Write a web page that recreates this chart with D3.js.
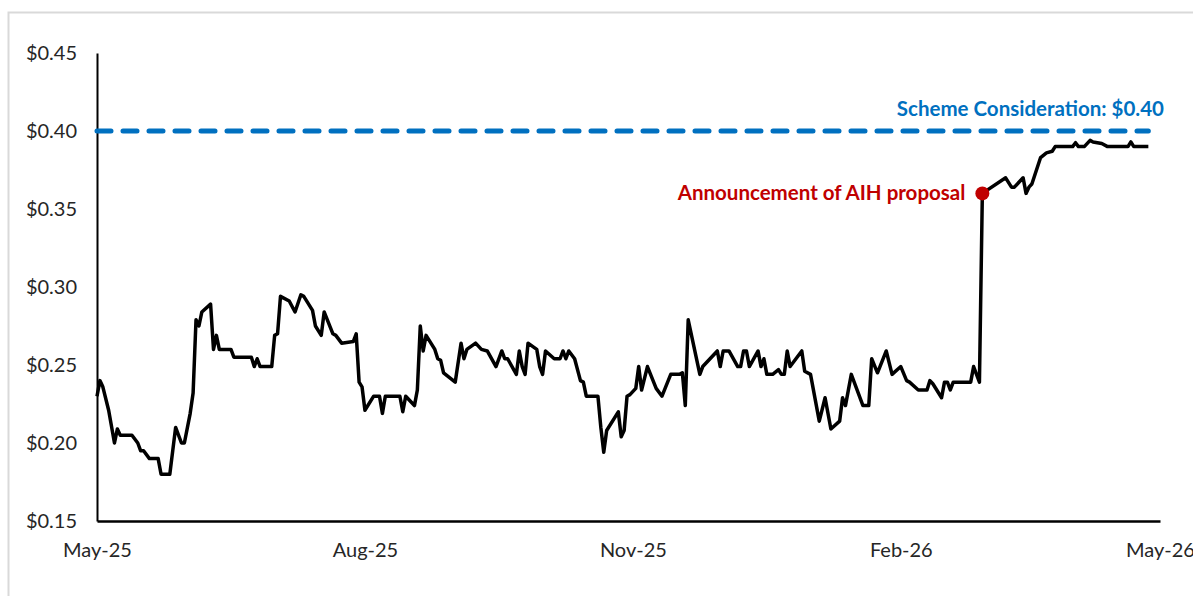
<!DOCTYPE html>
<html>
<head>
<meta charset="utf-8">
<script src="https://cdn.jsdelivr.net/npm/d3@7"></script>
<style>
  body { margin: 0; background: #fff; }
  svg { display: block; font-family: Lato, 'Noto Sans', sans-serif; }
</style>
</head>
<body>
<svg id="chart"></svg>
<script>
// share price
const dates = [
  '2025-05-01','2025-05-02','2025-05-03','2025-05-05','2025-05-07','2025-05-08','2025-05-09','2025-05-13',
  '2025-05-15','2025-05-16','2025-05-17','2025-05-19','2025-05-22','2025-05-23','2025-05-26','2025-05-28',
  '2025-05-30','2025-05-31','2025-06-02','2025-06-03','2025-06-04','2025-06-05','2025-06-06','2025-06-09',
  '2025-06-10','2025-06-11','2025-06-12','2025-06-16','2025-06-17','2025-06-23','2025-06-24','2025-06-25',
  '2025-06-26','2025-06-30','2025-07-01','2025-07-02','2025-07-03','2025-07-06','2025-07-08','2025-07-10',
  '2025-07-11','2025-07-14','2025-07-15','2025-07-17','2025-07-18','2025-07-21','2025-07-22','2025-07-24',
  '2025-07-28','2025-07-29','2025-07-30','2025-07-31','2025-08-01','2025-08-04','2025-08-06','2025-08-07',
  '2025-08-08','2025-08-13','2025-08-14','2025-08-15','2025-08-18','2025-08-19','2025-08-20','2025-08-21',
  '2025-08-22','2025-08-25','2025-08-26','2025-08-27','2025-08-28','2025-09-01','2025-09-03','2025-09-04',
  '2025-09-05','2025-09-08','2025-09-10','2025-09-12','2025-09-15','2025-09-17','2025-09-18','2025-09-19',
  '2025-09-22','2025-09-23','2025-09-24','2025-09-25','2025-09-26','2025-09-29','2025-09-30','2025-10-01',
  '2025-10-02','2025-10-05','2025-10-07','2025-10-08','2025-10-09','2025-10-10','2025-10-12','2025-10-14',
  '2025-10-15','2025-10-16','2025-10-20','2025-10-21','2025-10-22','2025-10-23','2025-10-27','2025-10-28',
  '2025-10-29','2025-10-30','2025-10-31','2025-11-02','2025-11-03','2025-11-04','2025-11-06','2025-11-09',
  '2025-11-11','2025-11-14','2025-11-17','2025-11-18','2025-11-19','2025-11-20','2025-11-24','2025-11-25',
  '2025-11-30','2025-12-01','2025-12-02','2025-12-04','2025-12-07','2025-12-08','2025-12-09','2025-12-10',
  '2025-12-11','2025-12-14','2025-12-15','2025-12-16','2025-12-17','2025-12-19','2025-12-21','2025-12-22',
  '2025-12-23','2025-12-24','2025-12-25','2025-12-29','2025-12-30','2026-01-01','2026-01-04','2026-01-06',
  '2026-01-08','2026-01-11','2026-01-12','2026-01-13','2026-01-15','2026-01-19','2026-01-21','2026-01-22',
  '2026-01-24','2026-01-27','2026-01-29','2026-02-01','2026-02-03','2026-02-04','2026-02-07','2026-02-10',
  '2026-02-11','2026-02-12','2026-02-15','2026-02-16','2026-02-17','2026-02-18','2026-02-19','2026-02-25',
  '2026-02-26','2026-02-28','2026-03-01','2026-03-09','2026-03-11','2026-03-12','2026-03-15','2026-03-16',
  '2026-03-17','2026-03-18','2026-03-21','2026-03-23','2026-03-25','2026-03-26','2026-04-01','2026-04-02',
  '2026-04-03','2026-04-05','2026-04-07','2026-04-08','2026-04-11','2026-04-13','2026-04-20','2026-04-21',
  '2026-04-22','2026-04-27'
];

const prices = [
  0.230,0.240,0.236,0.221,0.200,0.209,0.205,0.205,
  0.200,0.195,0.195,0.190,0.190,0.180,0.180,0.210,
  0.200,0.200,0.219,0.232,0.279,0.275,0.284,0.289,
  0.260,0.269,0.260,0.260,0.255,0.255,0.249,0.254,
  0.249,0.249,0.269,0.270,0.294,0.291,0.284,0.295,
  0.294,0.285,0.275,0.269,0.284,0.270,0.269,0.264,
  0.265,0.270,0.239,0.236,0.221,0.230,0.230,0.219,
  0.230,0.230,0.220,0.230,0.224,0.234,0.275,0.259,
  0.269,0.260,0.254,0.253,0.245,0.239,0.264,0.254,
  0.260,0.264,0.260,0.259,0.249,0.259,0.254,0.254,
  0.244,0.259,0.249,0.244,0.264,0.260,0.249,0.244,
  0.259,0.254,0.254,0.259,0.254,0.259,0.254,0.240,
  0.239,0.230,0.230,0.210,0.194,0.208,0.220,0.204,
  0.208,0.230,0.231,0.235,0.249,0.234,0.249,0.235,
  0.230,0.244,0.244,0.245,0.224,0.279,0.244,0.249,
  0.259,0.249,0.259,0.259,0.249,0.249,0.259,0.259,
  0.249,0.259,0.249,0.254,0.244,0.244,0.247,0.244,
  0.244,0.259,0.249,0.259,0.246,0.244,0.214,0.229,
  0.209,0.214,0.229,0.224,0.244,0.224,0.224,0.254,
  0.245,0.259,0.244,0.249,0.240,0.239,0.234,0.234,
  0.240,0.238,0.229,0.239,0.239,0.234,0.239,0.239,
  0.249,0.239,0.360,0.370,0.364,0.364,0.370,0.360,
  0.364,0.366,0.383,0.386,0.387,0.390,0.390,0.3925,
  0.390,0.390,0.394,0.393,0.392,0.390,0.390,0.393,
  0.390,0.390
];

const yTicks = [0.15, 0.20, 0.25, 0.30, 0.35, 0.40, 0.45];
const xTicks = ['2025-05-01', '2025-08-01', '2025-11-01', '2026-02-01', '2026-05-01'];
const schemePrice = 0.40;
const schemeLabel = 'Scheme Consideration: $0.40';
const announceDate = '2026-03-01';
const announceLabel = 'Announcement of AIH proposal';

const W = 1193, H = 596;
const font = "Lato, 'Noto Sans', sans-serif";
const parse = d3.timeParse('%Y-%m-%d');

const data = dates.map((d, i) => ({ date: parse(d), price: prices[i] }));

const svg = d3.select('#chart').attr('width', W).attr('height', H);

// outer chart frame
svg.append('rect')
  .attr('x', 8.5).attr('y', 12.5)
  .attr('width', W).attr('height', H)
  .attr('fill', 'none')
  .attr('stroke', '#d9d9d9')
  .attr('stroke-width', 2);

const x = d3.scaleTime()
  .domain([parse('2025-05-01'), parse('2026-05-01')])
  .range([97, 1160]);

const y = d3.scaleLinear()
  .domain([0.15, 0.45])
  .range([521, 53]);

const yAxis = d3.axisLeft(y)
  .tickValues(yTicks)
  .tickSize(0)
  .tickPadding(20)
  .tickFormat((d) => `$${d.toFixed(2)}`);

svg.append('g')
  .attr('class', 'yAxis')
  .attr('transform', `translate(${x.range()[0]}, 0)`)
  .call(yAxis)
  .attr('font-family', font)
  .attr('font-size', '20px')
  .call((g) => g.select('.domain').attr('stroke', '#000').attr('stroke-width', 2))
  .call((g) => g.selectAll('text').attr('fill', '#262626'));

const xAxis = d3.axisBottom(x)
  .tickValues(xTicks.map(parse))
  .tickSize(0)
  .tickPadding(22)
  .tickFormat(d3.timeFormat('%b-%y'));

svg.append('g')
  .attr('class', 'xAxis')
  .attr('transform', `translate(0, ${y.range()[0]})`)
  .call(xAxis)
  .attr('font-family', font)
  .attr('font-size', '20px')
  .call((g) => g.select('.domain').attr('stroke', '#000').attr('stroke-width', 2.5))
  .call((g) => g.selectAll('text').attr('fill', '#262626'));

// scheme consideration reference line
svg.append('line')
  .attr('x1', x.range()[0])
  .attr('x2', x(data[data.length - 1].date))
  .attr('y1', y(schemePrice))
  .attr('y2', y(schemePrice))
  .attr('stroke', '#0070c0')
  .attr('stroke-width', 5)
  .attr('stroke-linecap', 'round')
  .attr('stroke-dasharray', '14 12');

svg.append('text')
  .attr('x', 1164)
  .attr('y', 116)
  .attr('text-anchor', 'end')
  .attr('fill', '#0070c0')
  .attr('font-size', '20.5px')
  .attr('font-weight', 'bold')
  .text(schemeLabel);

const line = d3.line()
  .x((d) => x(d.date))
  .y((d) => y(d.price));

svg.append('path')
  .datum(data)
  .attr('d', line)
  .attr('fill', 'none')
  .attr('stroke', '#000')
  .attr('stroke-width', 3.5)
  .attr('stroke-linejoin', 'round');

// announcement marker
const ann = data.find((d) => +d.date === +parse(announceDate));

svg.append('circle')
  .attr('cx', x(ann.date))
  .attr('cy', y(ann.price))
  .attr('r', 7)
  .attr('fill', '#c00000');

svg.append('text')
  .attr('x', x(ann.date) - 17)
  .attr('y', y(ann.price) + 7)
  .attr('text-anchor', 'end')
  .attr('fill', '#c00000')
  .attr('font-size', '20.5px')
  .attr('font-weight', 'bold')
  .text(announceLabel);
</script>
</body>
</html>
